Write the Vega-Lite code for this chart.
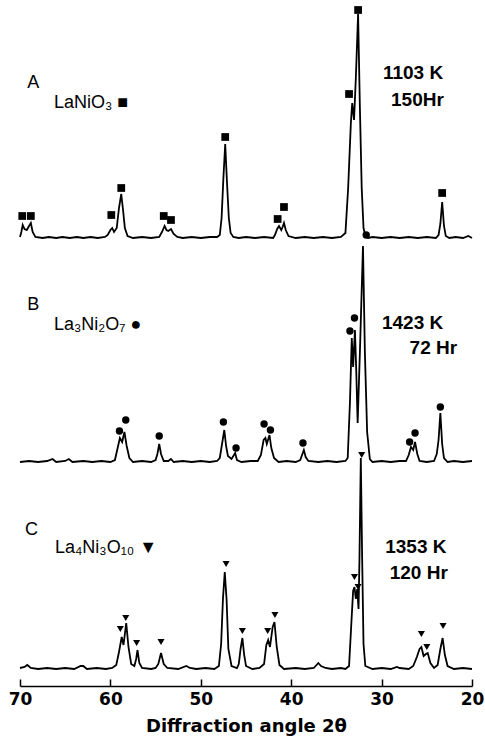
{
  "$schema": "https://vega.github.io/schema/vega-lite/v6.json",
  "width": 452,
  "height": 686,
  "autosize": {"type": "none"},
  "padding": {"left": 20, "top": 0, "right": 13, "bottom": 57},
  "background": "white",
  "config": {
    "view": {"stroke": null},
    "axisX": {
      "domainColor": "black",
      "domainWidth": 1.5,
      "tickColor": "black",
      "tickWidth": 1.5,
      "tickSize": -7,
      "labelPadding": 12,
      "labelFont": "DejaVu Sans",
      "labelFontSize": 17,
      "labelFontWeight": "bold",
      "labelColor": "black",
      "labelFlush": false,
      "titleFont": "DejaVu Sans",
      "titleFontSize": 18,
      "titleFontWeight": "bold",
      "titleColor": "black",
      "titlePadding": 10,
      "grid": false
    }
  },
  "datasets": {
    "lineA": [
      {"angle": 70.0, "I": 1}, {"angle": 69.85, "I": 6}, {"angle": 69.7, "I": 13}, {"angle": 69.5, "I": 9},
      {"angle": 69.25, "I": 8}, {"angle": 69.0, "I": 12}, {"angle": 68.8, "I": 15}, {"angle": 68.6, "I": 6},
      {"angle": 68.3, "I": 1}, {"angle": 67.5, "I": 0}, {"angle": 66.8, "I": 1}, {"angle": 66.0, "I": 0},
      {"angle": 65.3, "I": 1}, {"angle": 64.5, "I": 0}, {"angle": 63.7, "I": 1}, {"angle": 63.0, "I": 0},
      {"angle": 62.2, "I": 1}, {"angle": 61.4, "I": 0}, {"angle": 60.6, "I": 1}, {"angle": 60.3, "I": 3},
      {"angle": 60.0, "I": 8}, {"angle": 59.8, "I": 10}, {"angle": 59.6, "I": 6}, {"angle": 59.3, "I": 10},
      {"angle": 59.05, "I": 30}, {"angle": 58.8, "I": 44}, {"angle": 58.6, "I": 28}, {"angle": 58.4, "I": 10},
      {"angle": 58.1, "I": 2}, {"angle": 57.5, "I": 0}, {"angle": 56.5, "I": 1}, {"angle": 55.5, "I": 0},
      {"angle": 54.6, "I": 1}, {"angle": 54.3, "I": 6}, {"angle": 54.0, "I": 12}, {"angle": 53.8, "I": 8},
      {"angle": 53.6, "I": 7}, {"angle": 53.3, "I": 9}, {"angle": 53.0, "I": 4}, {"angle": 52.6, "I": 1},
      {"angle": 52.0, "I": 0}, {"angle": 51.0, "I": 1}, {"angle": 50.0, "I": 0}, {"angle": 49.0, "I": 1},
      {"angle": 48.2, "I": 1}, {"angle": 47.9, "I": 3}, {"angle": 47.7, "I": 20}, {"angle": 47.5, "I": 60},
      {"angle": 47.3, "I": 94}, {"angle": 47.1, "I": 55}, {"angle": 46.9, "I": 20}, {"angle": 46.7, "I": 5},
      {"angle": 46.4, "I": 1}, {"angle": 45.8, "I": 0},
      {"angle": 45.0, "I": 1}, {"angle": 44.0, "I": 0}, {"angle": 43.0, "I": 1}, {"angle": 42.0, "I": 0},
      {"angle": 41.8, "I": 3}, {"angle": 41.55, "I": 9}, {"angle": 41.35, "I": 12}, {"angle": 41.1, "I": 8},
      {"angle": 40.95, "I": 11}, {"angle": 40.8, "I": 15}, {"angle": 40.6, "I": 8}, {"angle": 40.3, "I": 2},
      {"angle": 39.5, "I": 0}, {"angle": 38.5, "I": 1}, {"angle": 37.5, "I": 0}, {"angle": 36.5, "I": 1},
      {"angle": 35.5, "I": 0}, {"angle": 34.5, "I": 1}, {"angle": 34.0, "I": 5}, {"angle": 33.7, "I": 50},
      {"angle": 33.4, "I": 115}, {"angle": 33.25, "I": 135}, {"angle": 33.05, "I": 118}, {"angle": 32.85, "I": 160},
      {"angle": 32.6, "I": 224}, {"angle": 32.4, "I": 130}, {"angle": 32.2, "I": 50}, {"angle": 32.0, "I": 10},
      {"angle": 31.8, "I": 2}, {"angle": 31.5, "I": 0}, {"angle": 31.0, "I": 1}, {"angle": 30.0, "I": 0},
      {"angle": 29.0, "I": 1}, {"angle": 28.0, "I": 0}, {"angle": 27.0, "I": 1}, {"angle": 26.0, "I": 0},
      {"angle": 25.0, "I": 1}, {"angle": 24.0, "I": 0}, {"angle": 23.7, "I": 3}, {"angle": 23.5, "I": 14},
      {"angle": 23.3, "I": 36}, {"angle": 23.1, "I": 12}, {"angle": 22.9, "I": 2}, {"angle": 22.5, "I": 0},
      {"angle": 21.8, "I": 1}, {"angle": 21.0, "I": 0}, {"angle": 20.4, "I": 2}, {"angle": 20.0, "I": 0}
    ],
    "markA": [
      {"angle": 69.75, "I": 22, "phase": "LaNiO3"}, {"angle": 68.8, "I": 22, "phase": "LaNiO3"},
      {"angle": 59.9, "I": 23, "phase": "LaNiO3"}, {"angle": 58.8, "I": 50, "phase": "LaNiO3"},
      {"angle": 54.1, "I": 22, "phase": "LaNiO3"}, {"angle": 53.3, "I": 18, "phase": "LaNiO3"},
      {"angle": 47.3, "I": 101, "phase": "LaNiO3"},
      {"angle": 41.5, "I": 19, "phase": "LaNiO3"}, {"angle": 40.8, "I": 31, "phase": "LaNiO3"},
      {"angle": 33.6, "I": 144, "phase": "LaNiO3"}, {"angle": 32.6, "I": 228, "phase": "LaNiO3"},
      {"angle": 23.3, "I": 45, "phase": "LaNiO3"},
      {"angle": 31.7, "I": 3, "phase": "La3Ni2O7"}
    ],
    "textA": [
      {"angle": 69.2, "I": 155, "label": "A"},
      {"angle": 66.24, "I": 135, "label": "LaNiO₃ ■"}
    ],
    "condA": [
      {"angle": 29.85, "I": 165, "label": "1103 K"},
      {"angle": 28.96, "I": 138, "label": "150Hr"}
    ],
    "lineB": [
      {"angle": 70.0, "I": 0}, {"angle": 69.0, "I": 1}, {"angle": 68.0, "I": 0}, {"angle": 67.0, "I": 1},
      {"angle": 66.4, "I": 3}, {"angle": 66.0, "I": 0}, {"angle": 65.0, "I": 1}, {"angle": 64.6, "I": 3},
      {"angle": 64.2, "I": 0}, {"angle": 63.0, "I": 1}, {"angle": 62.0, "I": 0}, {"angle": 61.0, "I": 1},
      {"angle": 60.0, "I": 0}, {"angle": 59.5, "I": 2}, {"angle": 59.25, "I": 12}, {"angle": 58.95, "I": 24},
      {"angle": 58.7, "I": 20}, {"angle": 58.45, "I": 30}, {"angle": 58.2, "I": 16}, {"angle": 57.9, "I": 4},
      {"angle": 57.5, "I": 0}, {"angle": 56.5, "I": 1}, {"angle": 55.5, "I": 0}, {"angle": 55.0, "I": 2},
      {"angle": 54.8, "I": 8}, {"angle": 54.6, "I": 18}, {"angle": 54.4, "I": 8}, {"angle": 54.1, "I": 1},
      {"angle": 53.6, "I": 1}, {"angle": 53.3, "I": 3}, {"angle": 53.0, "I": 0}, {"angle": 52.0, "I": 1},
      {"angle": 51.0, "I": 0}, {"angle": 50.0, "I": 1}, {"angle": 49.0, "I": 0}, {"angle": 48.2, "I": 1},
      {"angle": 47.9, "I": 4}, {"angle": 47.65, "I": 18}, {"angle": 47.4, "I": 32}, {"angle": 47.2, "I": 16},
      {"angle": 47.0, "I": 6}, {"angle": 46.6, "I": 3}, {"angle": 46.2, "I": 9}, {"angle": 46.0, "I": 2},
      {"angle": 45.5, "I": 0}, {"angle": 44.5, "I": 1}, {"angle": 43.7, "I": 1}, {"angle": 43.35, "I": 7},
      {"angle": 43.05, "I": 22}, {"angle": 42.85, "I": 24}, {"angle": 42.7, "I": 18}, {"angle": 42.4, "I": 27},
      {"angle": 42.2, "I": 14}, {"angle": 41.9, "I": 4}, {"angle": 41.4, "I": 0}, {"angle": 40.5, "I": 1},
      {"angle": 39.5, "I": 0}, {"angle": 39.0, "I": 2}, {"angle": 38.8, "I": 7}, {"angle": 38.6, "I": 12},
      {"angle": 38.4, "I": 5}, {"angle": 38.1, "I": 1}, {"angle": 37.0, "I": 0}, {"angle": 36.0, "I": 1},
      {"angle": 35.0, "I": 0}, {"angle": 34.0, "I": 1}, {"angle": 33.75, "I": 4}, {"angle": 33.5, "I": 60},
      {"angle": 33.3, "I": 124}, {"angle": 33.15, "I": 95}, {"angle": 32.95, "I": 132}, {"angle": 32.8, "I": 90},
      {"angle": 32.65, "I": 39}, {"angle": 32.4, "I": 110}, {"angle": 32.06, "I": 216}, {"angle": 31.85, "I": 110},
      {"angle": 31.6, "I": 30}, {"angle": 31.3, "I": 3}, {"angle": 31.0, "I": 0}, {"angle": 30.0, "I": 1},
      {"angle": 29.0, "I": 0}, {"angle": 28.0, "I": 1}, {"angle": 27.3, "I": 1}, {"angle": 27.0, "I": 7},
      {"angle": 26.75, "I": 15}, {"angle": 26.5, "I": 12}, {"angle": 26.3, "I": 20}, {"angle": 26.05, "I": 8},
      {"angle": 25.8, "I": 1}, {"angle": 25.0, "I": 0}, {"angle": 24.2, "I": 1}, {"angle": 23.9, "I": 8},
      {"angle": 23.7, "I": 22}, {"angle": 23.5, "I": 49}, {"angle": 23.3, "I": 18}, {"angle": 23.1, "I": 4},
      {"angle": 22.7, "I": 0}, {"angle": 22.0, "I": 1}, {"angle": 21.0, "I": 0}, {"angle": 20.0, "I": 1}
    ],
    "markB": [
      {"angle": 59.0, "I": 31, "phase": "La3Ni2O7"}, {"angle": 58.3, "I": 42, "phase": "La3Ni2O7"},
      {"angle": 54.6, "I": 26, "phase": "La3Ni2O7"}, {"angle": 47.5, "I": 40, "phase": "La3Ni2O7"},
      {"angle": 46.1, "I": 14, "phase": "La3Ni2O7"}, {"angle": 43.0, "I": 38, "phase": "La3Ni2O7"},
      {"angle": 42.3, "I": 32, "phase": "La3Ni2O7"}, {"angle": 38.7, "I": 19, "phase": "La3Ni2O7"},
      {"angle": 33.5, "I": 131, "phase": "La3Ni2O7"}, {"angle": 33.0, "I": 144, "phase": "La3Ni2O7"},
      {"angle": 26.9, "I": 20, "phase": "La3Ni2O7"}, {"angle": 26.3, "I": 29, "phase": "La3Ni2O7"},
      {"angle": 23.5, "I": 55, "phase": "La3Ni2O7"}
    ],
    "textB": [
      {"angle": 69.2, "I": 157, "label": "B"},
      {"angle": 66.24, "I": 137, "label": "La₃Ni₂O₇ ●"}
    ],
    "condB": [
      {"angle": 29.96, "I": 139, "label": "1423 K"},
      {"angle": 26.9, "I": 114, "label": "72 Hr"}
    ],
    "lineC": [
      {"angle": 70.0, "I": 1}, {"angle": 69.5, "I": 2}, {"angle": 69.2, "I": 4}, {"angle": 68.8, "I": 1},
      {"angle": 68.0, "I": 0}, {"angle": 67.0, "I": 1}, {"angle": 66.0, "I": 0}, {"angle": 65.0, "I": 1},
      {"angle": 64.0, "I": 0}, {"angle": 63.3, "I": 3}, {"angle": 63.0, "I": 3}, {"angle": 62.6, "I": 0},
      {"angle": 61.5, "I": 1}, {"angle": 60.5, "I": 0}, {"angle": 59.8, "I": 1}, {"angle": 59.35, "I": 4},
      {"angle": 59.05, "I": 17}, {"angle": 58.75, "I": 32}, {"angle": 58.55, "I": 24}, {"angle": 58.25, "I": 46},
      {"angle": 58.0, "I": 22}, {"angle": 57.7, "I": 5}, {"angle": 57.35, "I": 3}, {"angle": 57.15, "I": 10},
      {"angle": 57.0, "I": 19}, {"angle": 56.8, "I": 6}, {"angle": 56.5, "I": 1}, {"angle": 55.5, "I": 0},
      {"angle": 55.0, "I": 1}, {"angle": 54.7, "I": 5}, {"angle": 54.4, "I": 16}, {"angle": 54.1, "I": 5},
      {"angle": 53.7, "I": 1}, {"angle": 52.5, "I": 0}, {"angle": 51.6, "I": 3}, {"angle": 51.2, "I": 1},
      {"angle": 50.5, "I": 0}, {"angle": 49.5, "I": 1}, {"angle": 48.5, "I": 0}, {"angle": 48.0, "I": 3},
      {"angle": 47.75, "I": 25}, {"angle": 47.55, "I": 70}, {"angle": 47.35, "I": 97}, {"angle": 47.15, "I": 70},
      {"angle": 46.95, "I": 20}, {"angle": 46.6, "I": 3}, {"angle": 46.0, "I": 1}, {"angle": 45.8, "I": 5},
      {"angle": 45.6, "I": 20}, {"angle": 45.4, "I": 31}, {"angle": 45.2, "I": 14}, {"angle": 45.0, "I": 3},
      {"angle": 44.3, "I": 0}, {"angle": 43.5, "I": 1}, {"angle": 43.0, "I": 5}, {"angle": 42.75, "I": 24},
      {"angle": 42.55, "I": 29}, {"angle": 42.35, "I": 22}, {"angle": 42.05, "I": 42}, {"angle": 41.85, "I": 47},
      {"angle": 41.6, "I": 22}, {"angle": 41.3, "I": 4}, {"angle": 40.8, "I": 0}, {"angle": 39.5, "I": 1},
      {"angle": 38.5, "I": 0}, {"angle": 37.5, "I": 1}, {"angle": 37.0, "I": 6}, {"angle": 36.7, "I": 3},
      {"angle": 36.2, "I": 1}, {"angle": 35.5, "I": 0}, {"angle": 34.5, "I": 1}, {"angle": 34.0, "I": 0},
      {"angle": 33.6, "I": 3}, {"angle": 33.35, "I": 45}, {"angle": 33.15, "I": 78}, {"angle": 33.0, "I": 82},
      {"angle": 32.85, "I": 70}, {"angle": 32.7, "I": 80}, {"angle": 32.55, "I": 60}, {"angle": 32.45, "I": 110},
      {"angle": 32.3, "I": 211}, {"angle": 32.15, "I": 110}, {"angle": 32.0, "I": 25}, {"angle": 31.8, "I": 3},
      {"angle": 31.0, "I": 0}, {"angle": 30.0, "I": 1}, {"angle": 29.0, "I": 0}, {"angle": 28.3, "I": 2},
      {"angle": 28.0, "I": 1}, {"angle": 27.0, "I": 0}, {"angle": 26.5, "I": 3}, {"angle": 26.1, "I": 12},
      {"angle": 25.8, "I": 20}, {"angle": 25.6, "I": 22}, {"angle": 25.35, "I": 13}, {"angle": 25.1, "I": 15},
      {"angle": 24.9, "I": 16}, {"angle": 24.6, "I": 6}, {"angle": 24.2, "I": 1}, {"angle": 23.8, "I": 4},
      {"angle": 23.5, "I": 20}, {"angle": 23.25, "I": 31}, {"angle": 23.0, "I": 14}, {"angle": 22.7, "I": 3},
      {"angle": 22.0, "I": 0}, {"angle": 21.0, "I": 1}, {"angle": 20.0, "I": 0}
    ],
    "markC": [
      {"angle": 58.9, "I": 40, "phase": "La4Ni3O10"}, {"angle": 58.3, "I": 51, "phase": "La4Ni3O10"},
      {"angle": 57.1, "I": 26, "phase": "La4Ni3O10"}, {"angle": 54.4, "I": 27, "phase": "La4Ni3O10"},
      {"angle": 47.2, "I": 105, "phase": "La4Ni3O10"}, {"angle": 45.4, "I": 38, "phase": "La4Ni3O10"},
      {"angle": 42.6, "I": 38, "phase": "La4Ni3O10"}, {"angle": 41.8, "I": 54, "phase": "La4Ni3O10"},
      {"angle": 33.0, "I": 92, "phase": "La4Ni3O10"}, {"angle": 32.6, "I": 82, "phase": "La4Ni3O10"},
      {"angle": 32.2, "I": 214, "phase": "La4Ni3O10"},
      {"angle": 25.6, "I": 35, "phase": "La4Ni3O10"}, {"angle": 25.0, "I": 22, "phase": "La4Ni3O10"},
      {"angle": 23.2, "I": 43, "phase": "La4Ni3O10"}
    ],
    "textC": [
      {"angle": 69.45, "I": 139, "label": "C"},
      {"angle": 66.13, "I": 121, "label": "La₄Ni₃O₁₀ ▼"}
    ],
    "condC": [
      {"angle": 29.6, "I": 122, "label": "1353 K"},
      {"angle": 29.1, "I": 96, "label": "120 Hr"}
    ]
  },
  "layer": [
    {
      "encoding": {
        "x": {"field": "angle", "type": "quantitative", "scale": {"domain": [20, 70], "reverse": true, "nice": false, "zero": false}, "axis": {"values": [70, 60, 50, 40, 30, 20]}, "title": "Diffraction angle 2θ"},
        "y": {"field": "I", "type": "quantitative", "scale": {"domain": [-448, 238], "nice": false, "zero": false}, "axis": null}
      },
      "layer": [
        {"data": {"name": "lineA"}, "mark": {"type": "line", "color": "black", "strokeWidth": 1.8}},
        {"data": {"name": "markA"}, "mark": {"type": "point", "filled": true, "color": "black", "opacity": 1},
         "encoding": {
           "shape": {"field": "phase", "type": "nominal", "scale": {"domain": ["LaNiO3", "La3Ni2O7", "La4Ni3O10"], "range": ["square", "circle", "triangle-down"]}, "legend": null},
           "size": {"field": "phase", "type": "nominal", "scale": {"domain": ["LaNiO3", "La3Ni2O7", "La4Ni3O10"], "range": [60, 50, 85]}, "legend": null}}},
        {"data": {"name": "textA"}, "mark": {"type": "text", "align": "left", "baseline": "middle", "font": "Liberation Sans", "fontSize": 18, "color": "black"},
         "encoding": {"text": {"field": "label"}}},
        {"data": {"name": "condA"}, "mark": {"type": "text", "align": "left", "baseline": "middle", "font": "Liberation Sans", "fontSize": 19, "fontWeight": "bold", "color": "black"},
         "encoding": {"text": {"field": "label"}}}
      ]
    },
    {
      "encoding": {
        "x": {"field": "angle", "type": "quantitative", "scale": {"domain": [20, 70], "reverse": true, "nice": false, "zero": false}, "axis": {"values": [70, 60, 50, 40, 30, 20]}, "title": "Diffraction angle 2θ"},
        "y": {"field": "I", "type": "quantitative", "scale": {"domain": [-224, 462], "nice": false, "zero": false}, "axis": null}
      },
      "layer": [
        {"data": {"name": "lineB"}, "mark": {"type": "line", "color": "black", "strokeWidth": 1.8}},
        {"data": {"name": "markB"}, "mark": {"type": "point", "filled": true, "color": "black", "opacity": 1},
         "encoding": {
           "shape": {"field": "phase", "type": "nominal", "scale": {"domain": ["LaNiO3", "La3Ni2O7", "La4Ni3O10"], "range": ["square", "circle", "triangle-down"]}, "legend": null},
           "size": {"field": "phase", "type": "nominal", "scale": {"domain": ["LaNiO3", "La3Ni2O7", "La4Ni3O10"], "range": [60, 50, 85]}, "legend": null}}},
        {"data": {"name": "textB"}, "mark": {"type": "text", "align": "left", "baseline": "middle", "font": "Liberation Sans", "fontSize": 18, "color": "black"},
         "encoding": {"text": {"field": "label"}}},
        {"data": {"name": "condB"}, "mark": {"type": "text", "align": "left", "baseline": "middle", "font": "Liberation Sans", "fontSize": 19, "fontWeight": "bold", "color": "black"},
         "encoding": {"text": {"field": "label"}}}
      ]
    },
    {
      "encoding": {
        "x": {"field": "angle", "type": "quantitative", "scale": {"domain": [20, 70], "reverse": true, "nice": false, "zero": false}, "axis": {"values": [70, 60, 50, 40, 30, 20]}, "title": "Diffraction angle 2θ"},
        "y": {"field": "I", "type": "quantitative", "scale": {"domain": [-17, 669], "nice": false, "zero": false}, "axis": null}
      },
      "layer": [
        {"data": {"name": "lineC"}, "mark": {"type": "line", "color": "black", "strokeWidth": 1.8}},
        {"data": {"name": "markC"}, "mark": {"type": "point", "filled": true, "color": "black", "opacity": 1},
         "encoding": {
           "shape": {"field": "phase", "type": "nominal", "scale": {"domain": ["LaNiO3", "La3Ni2O7", "La4Ni3O10"], "range": ["square", "circle", "triangle-down"]}, "legend": null},
           "size": {"field": "phase", "type": "nominal", "scale": {"domain": ["LaNiO3", "La3Ni2O7", "La4Ni3O10"], "range": [60, 50, 85]}, "legend": null}}},
        {"data": {"name": "textC"}, "mark": {"type": "text", "align": "left", "baseline": "middle", "font": "Liberation Sans", "fontSize": 18, "color": "black"},
         "encoding": {"text": {"field": "label"}}},
        {"data": {"name": "condC"}, "mark": {"type": "text", "align": "left", "baseline": "middle", "font": "Liberation Sans", "fontSize": 19, "fontWeight": "bold", "color": "black"},
         "encoding": {"text": {"field": "label"}}}
      ]
    }
  ],
  "resolve": {"scale": {"y": "independent"}}
}
